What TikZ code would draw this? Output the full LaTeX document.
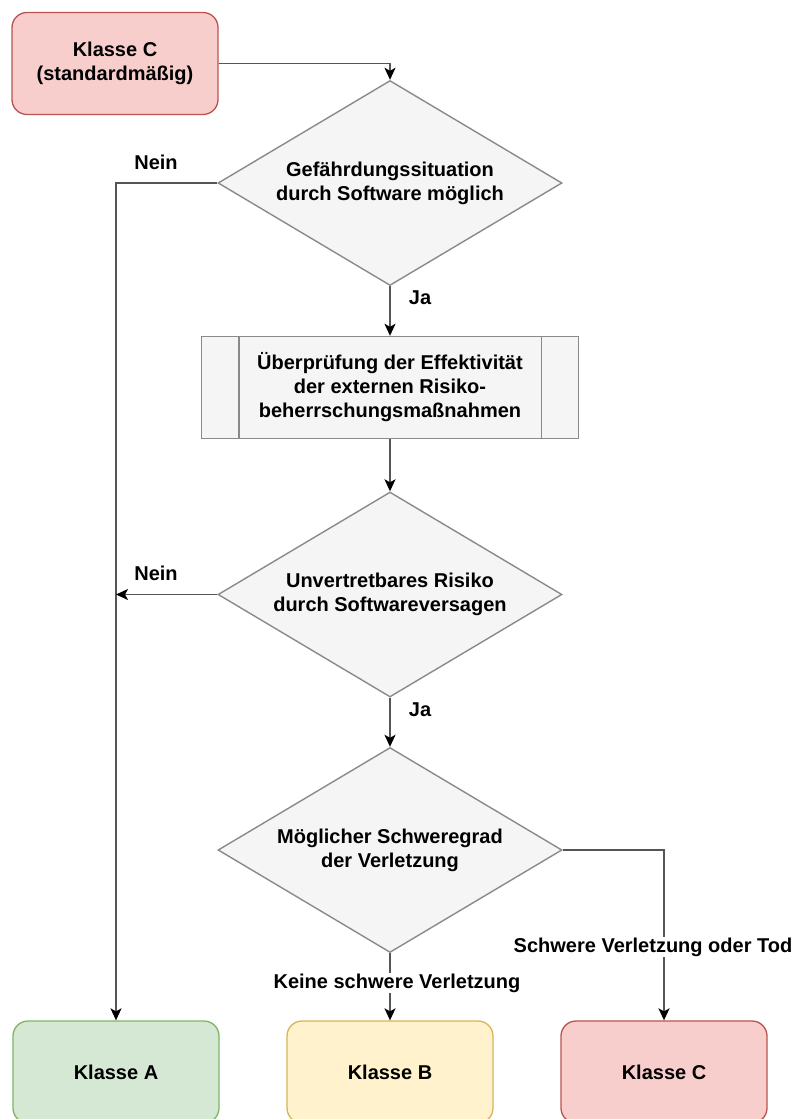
\documentclass[tikz,border=0pt]{standalone}
\usepackage{fontspec}
\setmainfont{Liberation Sans}
\usetikzlibrary{shapes.geometric,arrows.meta,calc}

\definecolor{redfill}{HTML}{F8CECC}
\definecolor{redline}{HTML}{B85450}
\definecolor{greenfill}{HTML}{D5E8D4}
\definecolor{greenline}{HTML}{82B366}
\definecolor{yellowfill}{HTML}{FFF2CC}
\definecolor{yellowline}{HTML}{D6B656}
\definecolor{grayfill}{HTML}{F5F5F5}
\definecolor{grayline}{HTML}{8A8A8A}
\definecolor{edgeline}{HTML}{555555}

\tikzset{
  lbl/.style={font=\fontsize{20}{24}\selectfont\bfseries, align=center, text=black},
  classbox/.style={lbl, rectangle, rounded corners=15pt, minimum width=206pt,
    minimum height=102pt, inner sep=0pt, line width=1.3pt},
  decision/.style={lbl, diamond, aspect=1.67, minimum width=344pt, minimum height=205pt,
    inner sep=0pt, fill=grayfill, draw=grayline, line width=1.4pt},
  procbox/.style={lbl, rectangle, minimum width=377pt, minimum height=102pt,
    inner sep=0pt, fill=grayfill, draw=grayline, line width=1.4pt},
  flow/.style={line width=1.6pt, draw=edgeline,
    -{Stealth[length=12pt,width=11pt,inset=3pt,black]}},
  edgetext/.style={lbl, fill=white, inner sep=1pt}
}

\begin{document}
\begin{tikzpicture}[x=1pt,y=-1pt]
\useasboundingbox (0,0) rectangle (797,1119);
\clip (0,0) rectangle (797,1119);

% start class
\node[classbox, fill=redfill, draw=redline] (c0) at (115,63.5) {Klasse C\\(standardmäßig)};

% decisions and process
\node[decision] (d1) at (390,183) {Gefährdungssituation\\durch Software möglich};
\node[procbox] (p) at (390,387.5) {Überprüfung der Effektivität\\der externen Risiko-\\beherrschungsmaßnahmen};
\draw[draw=grayline, line width=1.4pt] ($(p.north west)+(38,0)$) -- ($(p.south west)+(38,0)$);
\draw[draw=grayline, line width=1.4pt] ($(p.north east)+(-38,0)$) -- ($(p.south east)+(-38,0)$);
\node[decision] (d2) at (390,594.5) {Unvertretbares Risiko\\durch Softwareversagen};
\node[decision] (d3) at (390,850) {Möglicher Schweregrad\\der Verletzung};

% result classes
\node[classbox, fill=greenfill, draw=greenline] (ka) at (116,1072) {Klasse A};
\node[classbox, fill=yellowfill, draw=yellowline] (kb) at (390,1072) {Klasse B};
\node[classbox, fill=redfill, draw=redline] (kc) at (664,1072) {Klasse C};

% connectors
\draw[flow] (c0.east) -| (d1.north);
\draw[flow] (d1.south) -- (p.north);
\draw[flow] (p.south) -- (d2.north);
\draw[flow] (d2.south) -- (d3.north);
\draw[flow] (d1.west) -| (ka.north);
\draw[flow] (d2.west) -- (d2.west -| ka.north);
\draw[flow] (d3.south) -- (kb.north);
\draw[flow] (d3.east) -| (kc.north);

% connector labels
\node[lbl] (n1) at (156,162) {Nein};
\node[lbl] (n2) at (156,573) {Nein};
\node[lbl] (j1) at (420,298) {Ja};
\node[lbl] (j2) at (420,710) {Ja};
\node[edgetext] (l1) at (397,983) {Keine schwere Verletzung};
\node[edgetext] (l2) at (653,947) {Schwere Verletzung oder Tod};
\end{tikzpicture}
\end{document}
